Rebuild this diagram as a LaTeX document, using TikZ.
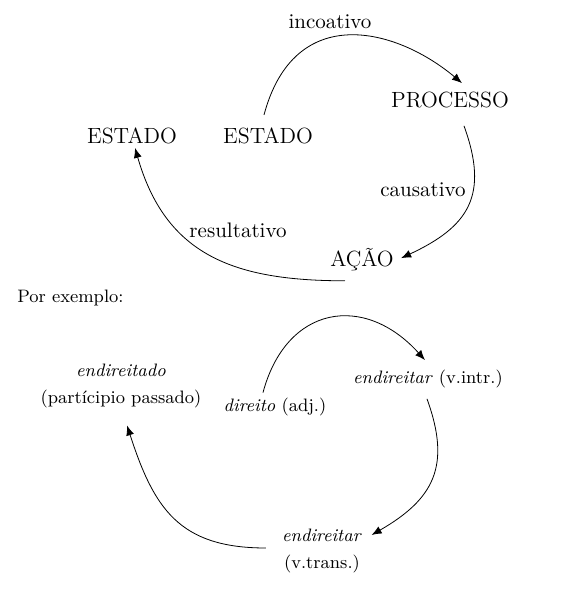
\documentclass[tikz,border=0pt]{standalone}
\usepackage{fontspec}
\usepackage{tikz}
\usetikzlibrary{calc,arrows.meta}
\tikzset{
    etat/.style={font=\fontsize{11}{13}\selectfont,anchor=base,inner sep=2pt},
    nomfleche/.style={font=\fontsize{10.5}{13}\selectfont,anchor=base,inner sep=2pt},
    exemple/.style={font=\fontsize{9}{13.5}\selectfont,align=center,inner sep=2pt},
    fleche/.style={-{Latex[length=5pt,width=4pt]}},
  }

\begin{document}
\begin{tikzpicture}[x=0.5pt,y=0.5pt]
				  \useasboundingbox (0,0) rectangle (574,591);
				  %schema general
				  \node[etat](estadoA) at (132,448) {ESTADO};
				  \node[etat](estadoB) at (268,448) {ESTADO};
				  \node[etat](processo) at (450,484) {PROCESSO};
				  \node[etat](acao) at (362,324) {AÇÃO};
				  \node[nomfleche](incoativo) at (330,563) {incoativo};
				  \node[nomfleche](causativo) at (423,394) {causativo};
				  \node[nomfleche](resultativo) at (238,354) {resultativo};
				  \draw[fleche] ([shift={(-2pt,4pt)}]estadoB.north) to[out=75,in=140,out looseness=1.5,in looseness=1.1] ([shift={(6pt,2pt)}]processo.north);
				  \draw[fleche] ([shift={(7pt,-7pt)}]processo.south) to[out=-70,in=25,looseness=1.3] ([shift={(1.5pt,1pt)}]acao.east);
				  \draw[fleche] ([shift={(-8.5pt,-2.5pt)}]acao.south) to[out=180,in=-74,looseness=1.15] ([shift={(1.5pt,0pt)}]estadoA.south);
				  %exemplo
				  \node[exemple,anchor=base west](porex) at (13,288) {Por exemplo:};
				  \node[exemple](participio) at (121,205) {\textit{endireitado}\\(partícipio passado)};
				  \node[exemple,anchor=base](direito) at (275,179) {\textit{direito} (adj.)};
				  \node[exemple,anchor=base](intr) at (428,207) {\textit{endireitar} (v.intr.)};
				  \node[exemple](trans) at (322,40) {\textit{endireitar}\\(v.trans.)};
				  \draw[fleche] ([shift={(-6pt,0.75pt)}]direito.north) to[out=75,in=132,looseness=1.4] ([shift={(-1.5pt,3pt)}]intr.north);
				  \draw[fleche] ([shift={(-0.5pt,-3pt)}]intr.south) to[out=-70,in=30,looseness=1.25] ([shift={(2.7pt,8pt)}]trans.east);
				  \draw[fleche] ([shift={(-6pt,1.5pt)}]trans.west) to[out=180,in=-72,looseness=1.2] ([shift={(3pt,-6.5pt)}]participio.south);
				  \end{tikzpicture}
\end{document}
